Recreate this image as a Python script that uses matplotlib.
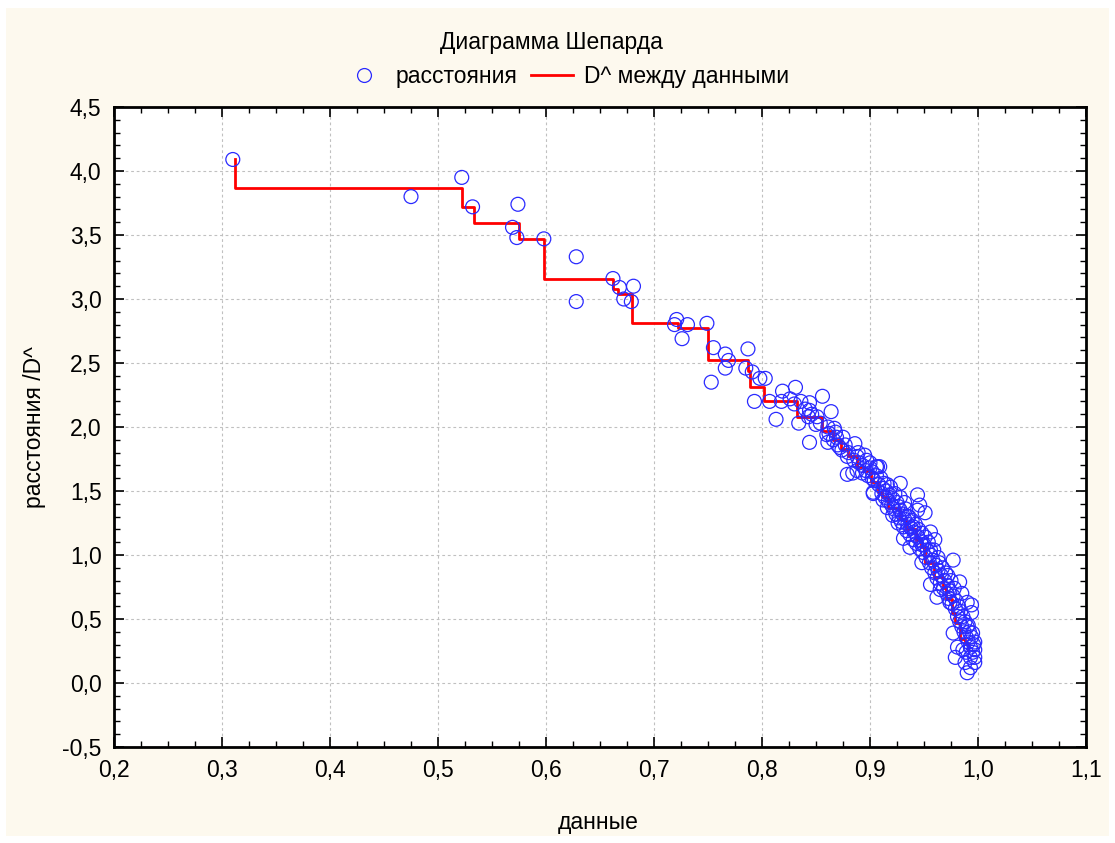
import numpy as np
import matplotlib
matplotlib.use('Agg')
import matplotlib.pyplot as plt
from matplotlib.ticker import MultipleLocator, FuncFormatter
from matplotlib.patches import Rectangle
from matplotlib.lines import Line2D

plt.rcParams['font.family'] = ['Liberation Sans', 'DejaVu Sans']

# data: observed points (distance in data, distance in config)
data_x = [0.310, 0.475, 0.522, 0.532, 0.574, 0.569, 0.573, 0.598, 0.628, 0.628,
          0.662, 0.668, 0.681, 0.672, 0.679,
          0.721, 0.731, 0.719, 0.726, 0.749, 0.755, 0.766, 0.769, 0.766, 0.753,
          0.787, 0.785, 0.791, 0.798, 0.803, 0.793, 0.807, 0.819, 0.818, 0.831,
          0.830, 0.813, 0.834, 0.844, 0.844, 0.843, 0.851, 0.856, 0.864, 0.854,
          0.861, 0.867, 0.860, 0.869, 0.875, 0.886, 0.844, 0.872, 0.861, 0.879,
          0.889, 0.897, 0.906, 0.909, 0.879, 0.888, 0.893, 0.902, 0.916, 0.903,
          0.912,
          0.888, 0.895, 0.907, 0.900, 0.884, 0.903, 0.912, 0.919, 0.928, 0.916,
          0.921, 0.928, 0.932, 0.935, 0.926, 0.931, 0.937, 0.944, 0.946, 0.951,
          0.944, 0.940, 0.956, 0.960, 0.948, 0.956, 0.948, 0.963, 0.977, 0.972,
          0.956, 0.965, 0.962, 0.974, 0.983, 0.985, 0.990, 0.994, 0.994, 0.977,
          0.991, 0.995, 0.997, 0.981, 0.986, 0.979, 0.988, 0.990, 0.997, 0.997,
          0.993,
          0.880, 0.885, 0.890, 0.893, 0.896, 0.898, 0.900, 0.902, 0.904, 0.906,
          0.908, 0.910, 0.911, 0.913, 0.914, 0.915, 0.917, 0.918, 0.920, 0.921,
          0.922, 0.923, 0.924, 0.925, 0.926, 0.927, 0.928, 0.929, 0.930, 0.931,
          0.932, 0.933, 0.934, 0.935, 0.936, 0.937, 0.938, 0.939, 0.940, 0.941,
          0.942, 0.943, 0.944, 0.945, 0.946, 0.947, 0.948, 0.949, 0.950, 0.951,
          0.952, 0.953, 0.954, 0.955, 0.956, 0.957, 0.958, 0.959, 0.960, 0.961,
          0.962, 0.963, 0.964, 0.965, 0.966, 0.967, 0.968, 0.969, 0.970, 0.971,
          0.972, 0.973, 0.974, 0.975, 0.976, 0.977, 0.978, 0.979, 0.980, 0.981,
          0.982, 0.983, 0.984, 0.985, 0.986, 0.987, 0.988, 0.989, 0.990, 0.991,
          0.992, 0.993, 0.994, 0.995, 0.996, 0.997, 0.993, 0.989,
          0.862, 0.866, 0.870, 0.874, 0.877, 0.868, 0.850, 0.846, 0.840, 0.836,
          0.826]
dist_y = [4.09, 3.80, 3.95, 3.72, 3.74, 3.56, 3.48, 3.47, 3.33, 2.98,
          3.16, 3.09, 3.10, 3.00, 2.98,
          2.84, 2.80, 2.80, 2.69, 2.81, 2.62, 2.57, 2.52, 2.46, 2.35,
          2.61, 2.46, 2.43, 2.38, 2.38, 2.20, 2.20, 2.28, 2.20, 2.31,
          2.18, 2.06, 2.03, 2.19, 2.13, 2.08, 2.08, 2.24, 2.12, 2.03,
          2.00, 1.99, 1.94, 1.92, 1.92, 1.87, 1.88, 1.84, 1.88, 1.77,
          1.80, 1.74, 1.69, 1.69, 1.63, 1.66, 1.64, 1.60, 1.55, 1.48,
          1.52,
          1.77, 1.78, 1.69, 1.68, 1.64, 1.49, 1.43, 1.53, 1.56, 1.37,
          1.31, 1.45, 1.41, 1.30, 1.25, 1.13, 1.06, 1.47, 1.39, 1.33,
          1.35, 1.22, 1.18, 1.12, 1.08, 1.04, 0.94, 0.98, 0.96, 0.84,
          0.77, 0.73, 0.67, 0.63, 0.79, 0.70, 0.63, 0.61, 0.55, 0.39,
          0.45, 0.39, 0.32, 0.28, 0.26, 0.20, 0.16, 0.08, 0.20, 0.16,
          0.12,
          1.80, 1.74, 1.72, 1.70, 1.66, 1.62, 1.72, 1.65, 1.58, 1.62,
          1.55, 1.60, 1.48, 1.56, 1.45, 1.50, 1.42, 1.47, 1.39, 1.44,
          1.36, 1.48, 1.32, 1.41, 1.38, 1.29, 1.35, 1.26, 1.32, 1.22,
          1.28, 1.36, 1.19, 1.24, 1.30, 1.16, 1.21, 1.27, 1.12, 1.18,
          1.24, 1.09, 1.14, 1.20, 1.05, 1.11, 1.17, 1.02, 1.08, 1.14,
          0.98, 1.04, 1.10, 0.94, 1.00, 0.90, 0.96, 1.04, 0.86, 0.92,
          0.82, 0.88, 0.94, 0.78, 0.84, 0.90, 0.74, 0.80, 0.86, 0.70,
          0.76, 0.66, 0.72, 0.80, 0.62, 0.68, 0.74, 0.58, 0.64, 0.52,
          0.60, 0.48, 0.56, 0.44, 0.52, 0.40, 0.48, 0.36, 0.44, 0.32,
          0.40, 0.28, 0.36, 0.24, 0.30, 0.26, 0.20, 0.24,
          1.95, 1.90, 1.86, 1.82, 1.86, 1.96, 2.02, 2.10, 2.14, 2.20,
          2.22]

# monotone regression (D^) step vertices
step_x = [0.312, 0.312, 0.522, 0.533, 0.575, 0.598, 0.662, 0.667, 0.680, 0.722,
          0.750, 0.787, 0.789, 0.802, 0.832, 0.856, 0.866, 0.873, 0.880, 0.888,
          0.894, 0.901, 0.907, 0.911, 0.917, 0.926, 0.928, 0.933, 0.943, 0.947,
          0.951, 0.959, 0.968, 0.970, 0.976, 0.979, 0.983, 0.988, 0.991, 0.991]
step_y = [4.09, 3.87, 3.72, 3.59, 3.47, 3.16, 3.08, 3.04, 2.81, 2.77,
          2.52, 2.44, 2.31, 2.20, 2.08, 1.97, 1.90, 1.83, 1.77, 1.69,
          1.66, 1.57, 1.49, 1.45, 1.37, 1.35, 1.28, 1.20, 1.12, 1.06,
          0.94, 0.83, 0.74, 0.66, 0.55, 0.47, 0.34, 0.31, 0.26, 0.26]

FS = 16.5

fig = plt.figure(figsize=(11.15, 8.43), dpi=100, facecolor='white')
fig.patches.append(Rectangle((6 / 1115, 1 - 836 / 843), 1103 / 1115, 828 / 843,
                             transform=fig.transFigure, facecolor='#fdf9ee',
                             edgecolor='none', zorder=-10))

ax = fig.add_axes([114 / 1115, 1 - 747 / 843, 972 / 1115, 640 / 843])
ax.set_facecolor('white')

ax.plot(step_x, step_y, drawstyle='steps-post', color='#ff0000', lw=2.0, zorder=3)
ax.scatter(data_x, dist_y, s=100, facecolors='none', edgecolors='#2a2aff',
           linewidths=0.9, zorder=4)

ax.set_xlim(0.2, 1.1)
ax.set_ylim(-0.5, 4.5)
ax.xaxis.set_major_locator(MultipleLocator(0.1))
ax.xaxis.set_minor_locator(MultipleLocator(0.025))
ax.yaxis.set_major_locator(MultipleLocator(0.5))
ax.yaxis.set_minor_locator(MultipleLocator(0.1))
fmt = FuncFormatter(lambda v, p: ('%.1f' % v).replace('.', ','))
ax.xaxis.set_major_formatter(fmt)
ax.yaxis.set_major_formatter(fmt)

ax.tick_params(which='both', direction='in', top=True, right=True, colors='black',
               labelsize=FS)
ax.tick_params(which='major', length=7, width=1.2, pad=9)
ax.tick_params(which='minor', length=4, width=1.0)
for s in ax.spines.values():
    s.set_linewidth(2)
    s.set_color('black')

ax.grid(True, which='major', color='#c0c0c0', linestyle=(0, (2.5, 2.5)), linewidth=0.8)
ax.set_axisbelow(True)

fig.text(551 / 1115, 1 - 42 / 843, 'Диаграмма Шепарда', ha='center', va='center',
         fontsize=FS)
fig.text(598 / 1115, 1 - 823 / 843, 'данные', ha='center', va='center', fontsize=FS)
fig.text(35 / 1115, 1 - 427 / 843, 'расстояния /D^', ha='center', va='center',
         rotation=90, fontsize=FS)

handles = [Line2D([], [], marker='o', linestyle='none', markersize=10,
                  markerfacecolor='none', markeredgecolor='#2a2aff', markeredgewidth=0.9),
           Line2D([], [], color='#ff0000', lw=2.0)]
fig.legend(handles, ['расстояния', 'D^ между данными'], loc='center',
           bbox_to_anchor=(566 / 1115, 1 - 77 / 843), ncol=2, frameon=False,
           fontsize=FS, handlelength=1.8, columnspacing=0.6, handletextpad=0.5)

fig.savefig('out.png', dpi=100, facecolor=fig.get_facecolor())
